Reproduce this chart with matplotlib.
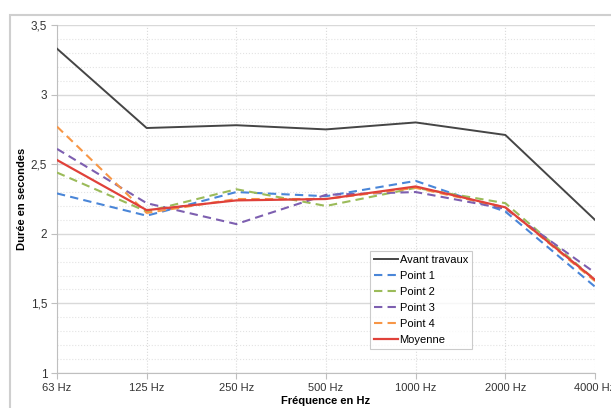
import numpy as np
import matplotlib.pyplot as plt
from matplotlib.patches import Rectangle
from matplotlib.ticker import MultipleLocator

plt.rcParams["font.family"] = ["Liberation Sans", "DejaVu Sans"]

frequences = ["63 Hz", "125 Hz", "250 Hz", "500 Hz", "1000 Hz", "2000 Hz", "4000 Hz"]
avant_travaux = [3.33, 2.76, 2.78, 2.75, 2.80, 2.71, 2.10]
point_1 = [2.29, 2.13, 2.30, 2.27, 2.38, 2.16, 1.62]
point_2 = [2.44, 2.16, 2.32, 2.20, 2.33, 2.22, 1.67]
point_3 = [2.61, 2.22, 2.07, 2.28, 2.30, 2.18, 1.72]
point_4 = [2.77, 2.15, 2.25, 2.25, 2.33, 2.19, 1.66]
moyenne = [2.53, 2.17, 2.24, 2.25, 2.34, 2.19, 1.67]

fig = plt.figure(figsize=(6.11, 4.08), dpi=100)
ax = fig.add_axes([57 / 611, 35 / 408, 538 / 611, 348 / 408])

# cadre du graphique
fig.patches.append(Rectangle((10 / 611, -0.1), 1.0, 0.963 + 0.1, transform=fig.transFigure,
                             fill=False, edgecolor="#cfcfcf", linewidth=1.5))

x = np.arange(len(frequences))
ax.plot(x, avant_travaux, color="#454545", lw=1.4, label="Avant travaux", zorder=3)
ax.plot(x, point_1, color="#4a86d8", lw=1.5, dashes=(4, 2.5), label="Point 1", zorder=3)
ax.plot(x, point_2, color="#9bbb59", lw=1.5, dashes=(4, 2.5), label="Point 2", zorder=3)
ax.plot(x, point_3, color="#7d5fb0", lw=1.5, dashes=(4, 2.5), label="Point 3", zorder=3)
ax.plot(x, point_4, color="#f79646", lw=1.5, dashes=(4, 2.5), label="Point 4", zorder=3)
ax.plot(x, moyenne, color="#e0413a", lw=1.6, label="Moyenne", zorder=4)

ax.set_xlim(0, len(frequences) - 1)
ax.set_ylim(1, 3.5)
ax.set_xticks(x)
ax.set_xticklabels(frequences, fontsize=8, color="#333333")
ax.yaxis.set_minor_locator(MultipleLocator(0.1))
ax.set_yticks(np.arange(1, 3.51, 0.5))
ax.set_yticklabels(["1", "1,5", "2", "2,5", "3", "3,5"], fontsize=8.5, color="#333333")

ax.grid(axis="y", which="major", color="#d9d9d9", linestyle="-", linewidth=1)
ax.grid(axis="y", which="minor", color="#e3e3e3", linestyle=":", linewidth=0.8)
ax.grid(axis="x", which="major", color="#dadada", linestyle=":", linewidth=0.8)
ax.tick_params(axis="y", which="minor", length=0)
ax.tick_params(axis="both", which="major", length=4, color="#bfbfbf", pad=3)

for s in ["top", "right"]:
    ax.spines[s].set_visible(False)
for s in ["left", "bottom"]:
    ax.spines[s].set_color("#bfbfbf")

ax.set_xlabel("Fréquence en Hz", fontsize=8, fontweight="bold", labelpad=2)
ax.set_ylabel("Durée en secondes", fontsize=8, fontweight="bold", labelpad=3)

leg = ax.legend(loc="lower left", bbox_to_anchor=(0.582, 0.069), fontsize=8,
                frameon=True, fancybox=False, handlelength=2.2, handletextpad=0.1,
                labelspacing=0.55, borderpad=0.35, borderaxespad=0)
leg.get_frame().set_edgecolor("#bfbfbf")
leg.get_frame().set_linewidth(0.8)

plt.savefig("out.png", dpi=100)
